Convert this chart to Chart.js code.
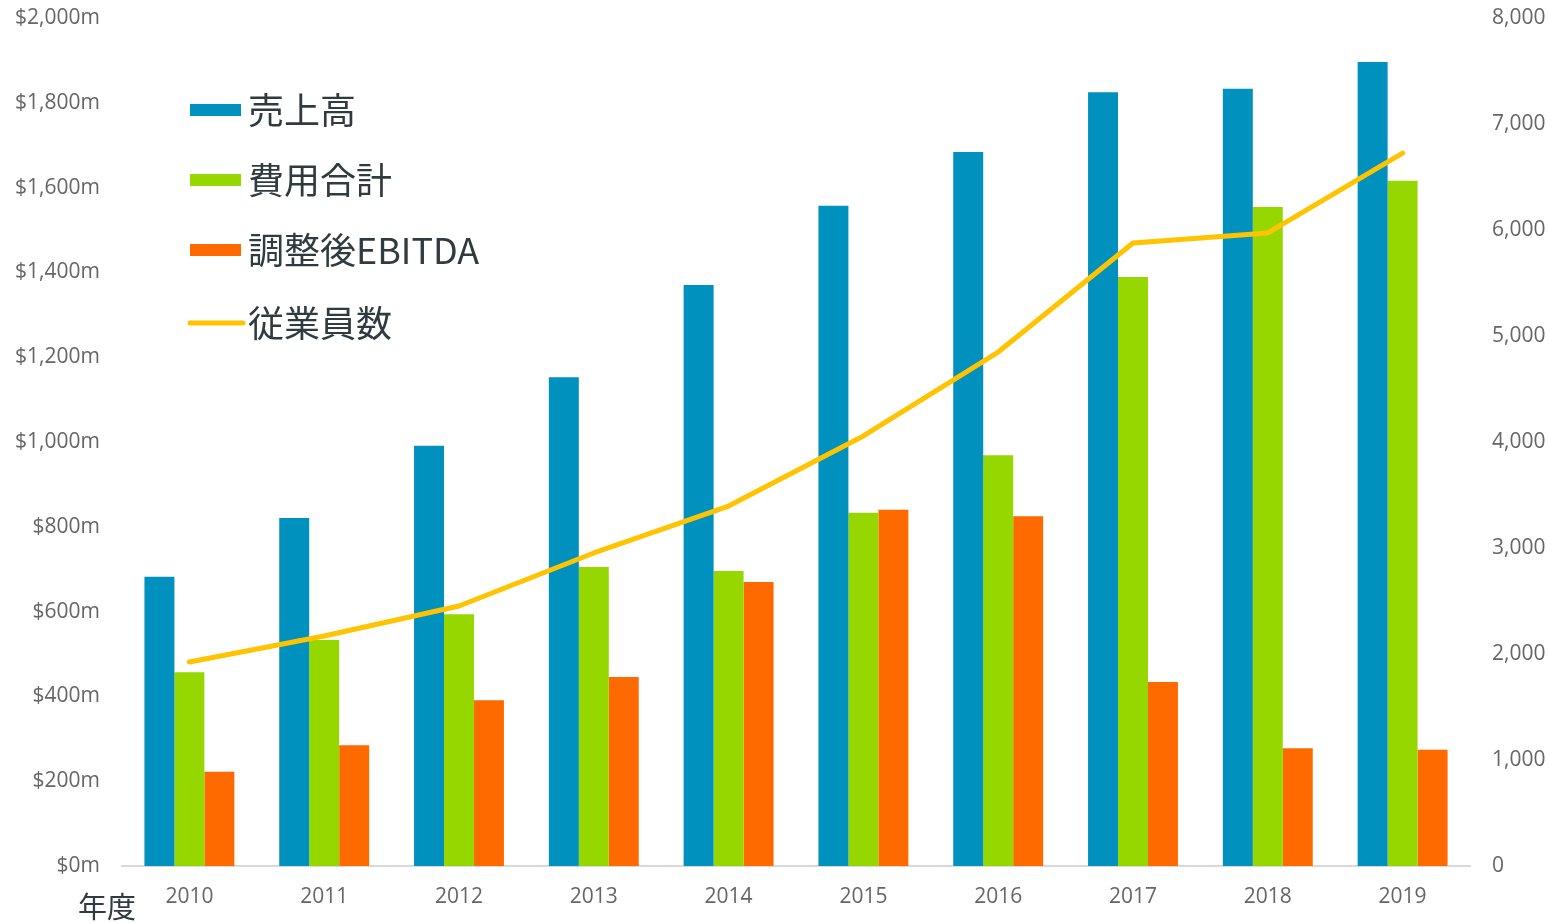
<!DOCTYPE html>
<html>
<head>
<meta charset="utf-8">
<script src="https://cdn.jsdelivr.net/npm/chart.js@4"></script>
<style>
html,body{margin:0;padding:0;background:#fff;}
#wrap{width:1549px;height:923px;position:relative;}
</style>
</head>
<body>
<div id="wrap"><canvas id="c" width="1549" height="923"></canvas></div>
<script>
const categories = ['2010','2011','2012','2013','2014','2015','2016','2017','2018','2019'];
const seriesNames = ['売上高','費用合計','調整後EBITDA','従業員数'];
const revenue = [682, 821, 991, 1153, 1370, 1557, 1684, 1825, 1833, 1896];
const totalCost = [457, 533, 594, 705, 696, 833, 969, 1389, 1554, 1616];
const adjEbitda = [222, 285, 391, 446, 670, 840, 825, 434, 278, 274];
const employees = [1925, 2170, 2453, 2953, 3396, 4057, 4849, 5877, 5972, 6726];
const xAxisTitle = '年度';

const colors = ['#0091BE', '#97D700', '#FF6A00', '#FFC300'];

const legendPlugin = {
  id: 'customLegend',
  afterDraw(chart) {
    const ctx = chart.ctx;
    ctx.save();
    const items = [
      {ds: 1, y: 110, type: 'bar'},
      {ds: 2, y: 180, type: 'bar'},
      {ds: 3, y: 250, type: 'bar'},
      {ds: 0, y: 323, type: 'line'}
    ];
    items.forEach(it => {
      const ds = chart.data.datasets[it.ds];
      if (it.type === 'bar') {
        ctx.fillStyle = ds.backgroundColor;
        ctx.fillRect(190, it.y - 6, 51, 12);
      } else {
        ctx.strokeStyle = ds.borderColor;
        ctx.lineWidth = 5;
        ctx.lineCap = 'round';
        ctx.beginPath();
        ctx.moveTo(190, it.y);
        ctx.lineTo(243, it.y);
        ctx.stroke();
      }
      ctx.fillStyle = '#2f3b3f';
      ctx.font = '36px "Noto Sans CJK JP"';
      ctx.textBaseline = 'middle';
      ctx.textAlign = 'left';
      ctx.fillText(ds.label, 248, it.y);
    });
    ctx.font = '29px "Noto Sans CJK JP"';
    ctx.fillStyle = '#2f3b3f';
    ctx.textBaseline = 'middle';
    ctx.fillText(xAxisTitle, 78, 907);
    ctx.restore();
  }
};

function fixV(width) {
  return function(s) { s.width = width; s.paddingTop = 0; s.paddingBottom = 0; };
}

new Chart(document.getElementById('c'), {
  type: 'bar',
  data: {
    labels: categories,
    datasets: [
      {type: 'line', label: seriesNames[3], data: employees, yAxisID: 'y2', borderColor: colors[3], borderWidth: 5, pointRadius: 0, fill: false, tension: 0, order: 0, borderCapStyle: 'round', borderJoinStyle: 'round'},
      {type: 'bar', label: seriesNames[0], data: revenue, yAxisID: 'y', backgroundColor: colors[0], order: 1},
      {type: 'bar', label: seriesNames[1], data: totalCost, yAxisID: 'y', backgroundColor: colors[1], order: 1},
      {type: 'bar', label: seriesNames[2], data: adjEbitda, yAxisID: 'y', backgroundColor: colors[2], order: 1}
    ]
  },
  options: {
    responsive: false,
    animation: false,
    layout: {autoPadding: false, padding: {top: 18, left: 0, right: 0, bottom: 0}},
    datasets: {bar: {categoryPercentage: 0.667, barPercentage: 1.0}},
    plugins: {legend: {display: false}, tooltip: {enabled: false}},
    scales: {
      x: {
        grid: {display: false, drawTicks: false},
        border: {display: true, color: '#d9d9d9', width: 2},
        ticks: {color: '#666', font: {family: 'Open Sans', size: 21}, padding: 18},
        afterFit(s) { s.height = 57; s.paddingLeft = 0; s.paddingRight = 0; }
      },
      y: {
        position: 'left',
        min: 0, max: 2000,
        grid: {display: false, drawTicks: false},
        border: {display: false},
        ticks: {stepSize: 200, color: '#666', font: {family: 'Open Sans', size: 21}, padding: 22,
          callback: v => '$' + v.toLocaleString('en-US') + 'm'},
        afterFit: fixV(122)
      },
      y2: {
        position: 'right',
        min: 0, max: 8000,
        grid: {display: false, drawTicks: false},
        border: {display: false},
        ticks: {stepSize: 1000, color: '#666', font: {family: 'Open Sans', size: 21}, padding: 22,
          callback: v => v.toLocaleString('en-US')},
        afterFit: fixV(79)
      }
    }
  },
  plugins: [legendPlugin]
});
</script>
</body>
</html>
